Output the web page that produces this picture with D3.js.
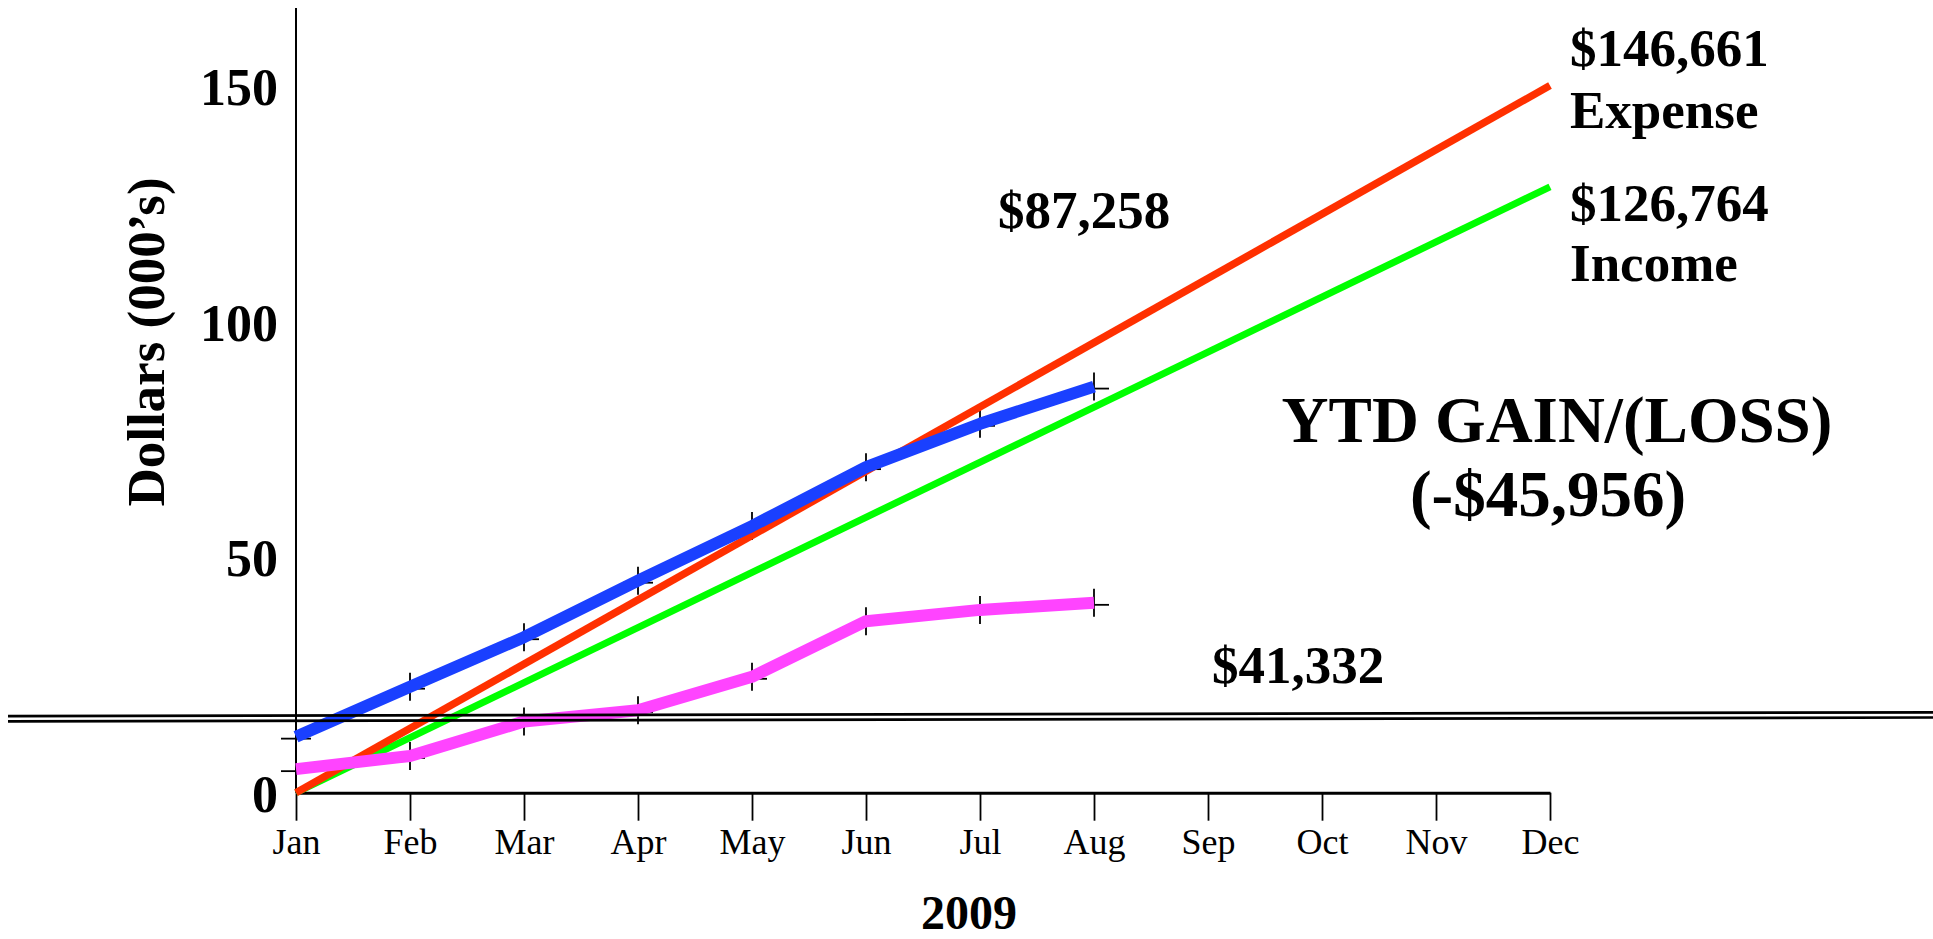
<!DOCTYPE html>
<html>
<head>
<meta charset="utf-8">
<script src="https://cdn.jsdelivr.net/npm/d3@7"></script>
<style>
  body { margin: 0; background: #fff; }
  svg text { font-family: "Liberation Serif", "Times New Roman", serif; fill: #000; }
</style>
</head>
<body>
<div class="svg_area"></div>
<script>
// chart data (thousands of dollars)
var months = ["Jan", "Feb", "Mar", "Apr", "May", "Jun", "Jul", "Aug", "Sep", "Oct", "Nov", "Dec"];
var yTicks = [0, 50, 100, 150];

// projected lines, straight from Jan to Dec
var expenseMonths = ["Jan", "Dec"];
var expenseValues = [0, 150.1];
var incomeMonths = ["Jan", "Dec"];
var incomeValues = [0, 128.6];

// actual year to date, Jan - Aug
var actualMonths = ["Jan", "Feb", "Mar", "Apr", "May", "Jun", "Jul", "Aug"];
var actualExpense = [11.9, 22.5, 33.0, 45.0, 56.6, 69.1, 78.3, 86.2];
var actualIncome = [5.0, 7.8, 15.1, 17.5, 24.6, 36.4, 38.8, 40.3];

// double reference line (value at left edge, value at right edge)
var breakLine = [15.7, 16.5];

// SVG area
var svgWidth = 1933;
var svgHeight = 939;

var svg = d3.select(".svg_area")
  .append("svg")
  .attr("width", svgWidth)
  .attr("height", svgHeight);

// scales
var xScale = d3.scalePoint()
  .domain(months)
  .range([296, 1550]);

var yScale = d3.scaleLinear()
  .domain([0, 150])
  .range([792.7, 86]);

var serif = "Liberation Serif";

// x axis
var bottomAxis = d3.axisBottom(xScale)
  .tickSize(28)
  .tickSizeOuter(0)
  .tickPadding(8);

var xAxisG = svg.append("g")
  .attr("transform", `translate(0, ${yScale(0)})`)
  .call(bottomAxis);
xAxisG.select(".domain").attr("stroke-width", 3);
xAxisG.selectAll(".tick line").attr("stroke-width", 1.8);
xAxisG.selectAll(".tick text")
  .attr("font-family", serif)
  .attr("font-size", 36)
  .attr("fill", "#000");

// y axis
var leftAxis = d3.axisLeft(yScale)
  .tickValues(yTicks)
  .tickSize(0)
  .tickPadding(18);

var yAxisG = svg.append("g")
  .attr("transform", `translate(${xScale("Jan")}, 0)`)
  .call(leftAxis);
yAxisG.select(".domain").remove();
yAxisG.selectAll(".tick text")
  .attr("font-family", serif)
  .attr("font-size", 52)
  .attr("font-weight", "bold")
  .attr("dy", "0.36em")
  .attr("fill", "#000");
yAxisG.append("line")
  .attr("x1", 0).attr("x2", 0)
  .attr("y1", 8)
  .attr("y2", yScale(0))
  .attr("stroke", "#000")
  .attr("stroke-width", 2);

// markers for the actual lines (drawn under the lines)
function drawMarkers(values) {
  var g = svg.append("g").attr("stroke", "#000").attr("stroke-width", 1.8);
  values.forEach(function(v, i) {
    var cx = xScale(actualMonths[i]);
    var cy = yScale(v);
    g.append("line").attr("x1", cx - 15).attr("x2", cx + 15).attr("y1", cy + 2).attr("y2", cy + 2);
    g.append("line").attr("x1", cx).attr("x2", cx).attr("y1", cy - 14).attr("y2", cy + 14);
  });
}
drawMarkers(actualExpense);
drawMarkers(actualIncome);

// lines
var line = d3.line()
  .x(d => xScale(d.month))
  .y(d => yScale(d.value));

function toPoints(ms, vs) {
  return ms.map(function(m, i) { return { month: m, value: vs[i] }; });
}

var series = [
  { data: toPoints(incomeMonths, incomeValues), color: "#00ff00", width: 7 },
  { data: toPoints(expenseMonths, expenseValues), color: "#ff3000", width: 7.5 },
  { data: toPoints(actualMonths, actualExpense), color: "#1a40ff", width: 12 },
  { data: toPoints(actualMonths, actualIncome), color: "#ff44ff", width: 12 }
];

svg.selectAll(".series")
  .data(series)
  .enter()
  .append("path")
  .attr("class", "series")
  .attr("d", d => line(d.data))
  .attr("fill", "none")
  .attr("stroke", d => d.color)
  .attr("stroke-width", d => d.width)
  .attr("stroke-linejoin", "round");

// double horizontal line
[-2.6, 2.6].forEach(function(off) {
  svg.append("line")
    .attr("x1", 8)
    .attr("x2", svgWidth)
    .attr("y1", yScale(breakLine[0]) + off)
    .attr("y2", yScale(breakLine[1]) + off)
    .attr("stroke", "#000")
    .attr("stroke-width", 2.6);
});

// text labels
function label(txt, x, y, size, anchor) {
  svg.append("text")
    .attr("x", x)
    .attr("y", y)
    .attr("font-size", size)
    .attr("font-weight", "bold")
    .attr("text-anchor", anchor || "start")
    .text(txt);
}

label("$146,661", 1570, 66, 53);
label("Expense", 1570, 128, 53);
label("$126,764", 1570, 221, 53);
label("Income", 1570, 281, 53);
label("$87,258", 998, 228, 53);
label("YTD GAIN/(LOSS)", 1557, 442, 65, "middle");
label("(-$45,956)", 1548, 516, 65, "middle");
label("$41,332", 1212, 683, 53);
label("2009", 969, 929, 48, "middle");

svg.append("text")
  .attr("transform", "translate(164, 342) rotate(-90)")
  .attr("font-size", 53)
  .attr("font-weight", "bold")
  .attr("text-anchor", "middle")
  .text("Dollars (000\u2019s)");
</script>
</body>
</html>
